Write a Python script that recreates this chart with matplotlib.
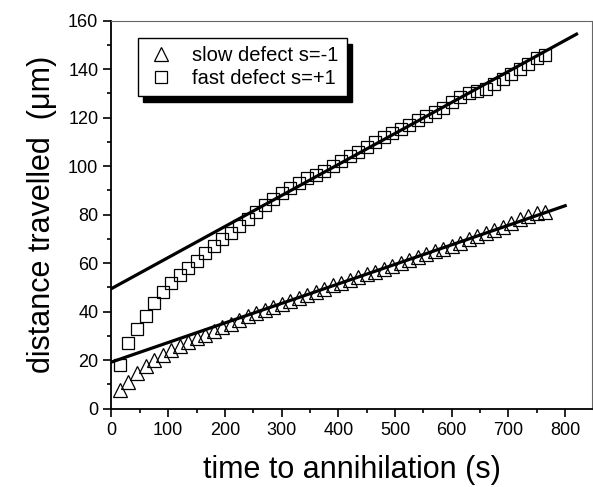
import numpy as np
import matplotlib
matplotlib.use('Agg')
import matplotlib.pyplot as plt
from matplotlib.ticker import MultipleLocator

plt.rcParams['font.family'] = ['Liberation Sans', 'DejaVu Sans']

# time to annihilation (s), same for both defects
t = [15, 30, 45, 60, 75, 90, 105, 120, 135, 150, 165, 180, 195, 210, 225,
     240, 255, 270, 285, 300, 315, 330, 345, 360, 375, 390, 405, 420, 435,
     450, 465, 480, 495, 510, 525, 540, 555, 570, 585, 600, 615, 630, 645,
     660, 675, 690, 705, 720, 735, 750, 765]

slow = [7.5, 11, 14.5, 17.5, 20, 22, 24, 26, 27.5, 29, 30.5, 32, 33.5, 35,
        36.5, 38, 39.5, 40.8, 42, 43.2, 44.5, 45.8, 47, 48.2, 49.5, 50.8, 52,
        53.2, 54.3, 55.5, 56.5, 57.6, 58.8, 60, 61.2, 62.5, 63.6, 64.8, 66,
        67.2, 68.5, 69.8, 71, 72.3, 73.5, 75, 76.5, 78, 79.5, 80.5, 81]

fast = [18, 27, 33, 38, 43.5, 48, 52, 55, 58, 61, 64, 67, 70, 72.5, 75.5,
        78, 81, 84, 86.5, 89, 91, 93, 95, 96.5, 98, 100, 102, 104, 106, 108,
        110, 112, 113.5, 115.5, 117, 119, 120.5, 122.5, 124, 126.5, 128.5,
        130, 131, 132, 134, 136, 138, 140, 142, 144.5, 146]

# linear fits (x range, intercept, slope)
slow_fit_x = [0, 800]
slow_fit = (19.2, 0.0806)
fast_fit_x = [0, 820]
fast_fit = (49.5, 0.128)

fig = plt.figure(figsize=(5.93, 4.87), dpi=100)
ax = fig.add_axes([0.188, 0.161, 0.811, 0.7965])

sx = np.array(slow_fit_x)
fx = np.array(fast_fit_x)
ax.plot(sx, slow_fit[0] + slow_fit[1] * sx, color='black', lw=2.3, zorder=3)
ax.plot(fx, fast_fit[0] + fast_fit[1] * fx, color='black', lw=2.3, zorder=3)

ax.plot(t, slow, ls='none', marker='^', ms=10, mfc='none', mec='black',
        mew=0.9, label='slow defect s=-1', zorder=2)
ax.plot(t, fast, ls='none', marker='s', ms=8, mfc='none', mec='black',
        mew=0.9, label='fast defect s=+1', zorder=2)

ax.set_xlim(0, 848)
ax.set_ylim(0, 160)
ax.xaxis.set_major_locator(MultipleLocator(100))
ax.xaxis.set_minor_locator(MultipleLocator(50))
ax.yaxis.set_major_locator(MultipleLocator(20))
ax.yaxis.set_minor_locator(MultipleLocator(10))
ax.tick_params(which='major', direction='out', length=6, width=1.2,
               labelsize=13, top=False, right=False)
ax.tick_params(which='minor', direction='out', length=3, width=1.2,
               top=False, right=False)

for side in ['left', 'bottom']:
    ax.spines[side].set_linewidth(1.3)
    ax.spines[side].set_color('black')
for side in ['top', 'right']:
    ax.spines[side].set_linewidth(0.8)
    ax.spines[side].set_color('#666666')

ax.set_xlabel('time to annihilation (s)', fontsize=22, labelpad=12)
ax.set_ylabel('distance travelled  (\u03bcm)', fontsize=22, labelpad=8)

leg = ax.legend(loc='upper left', bbox_to_anchor=(0.055, 0.955),
                borderaxespad=0, fontsize=14.5, fancybox=False,
                edgecolor='black', framealpha=1, handletextpad=0.8,
                borderpad=0.4, labelspacing=0.2, handlelength=1.5,
                shadow={'ox': 4, 'oy': -4, 'color': 'black', 'alpha': 1})
leg.get_frame().set_linewidth(1.0)

fig.savefig('out.png', dpi=100)
